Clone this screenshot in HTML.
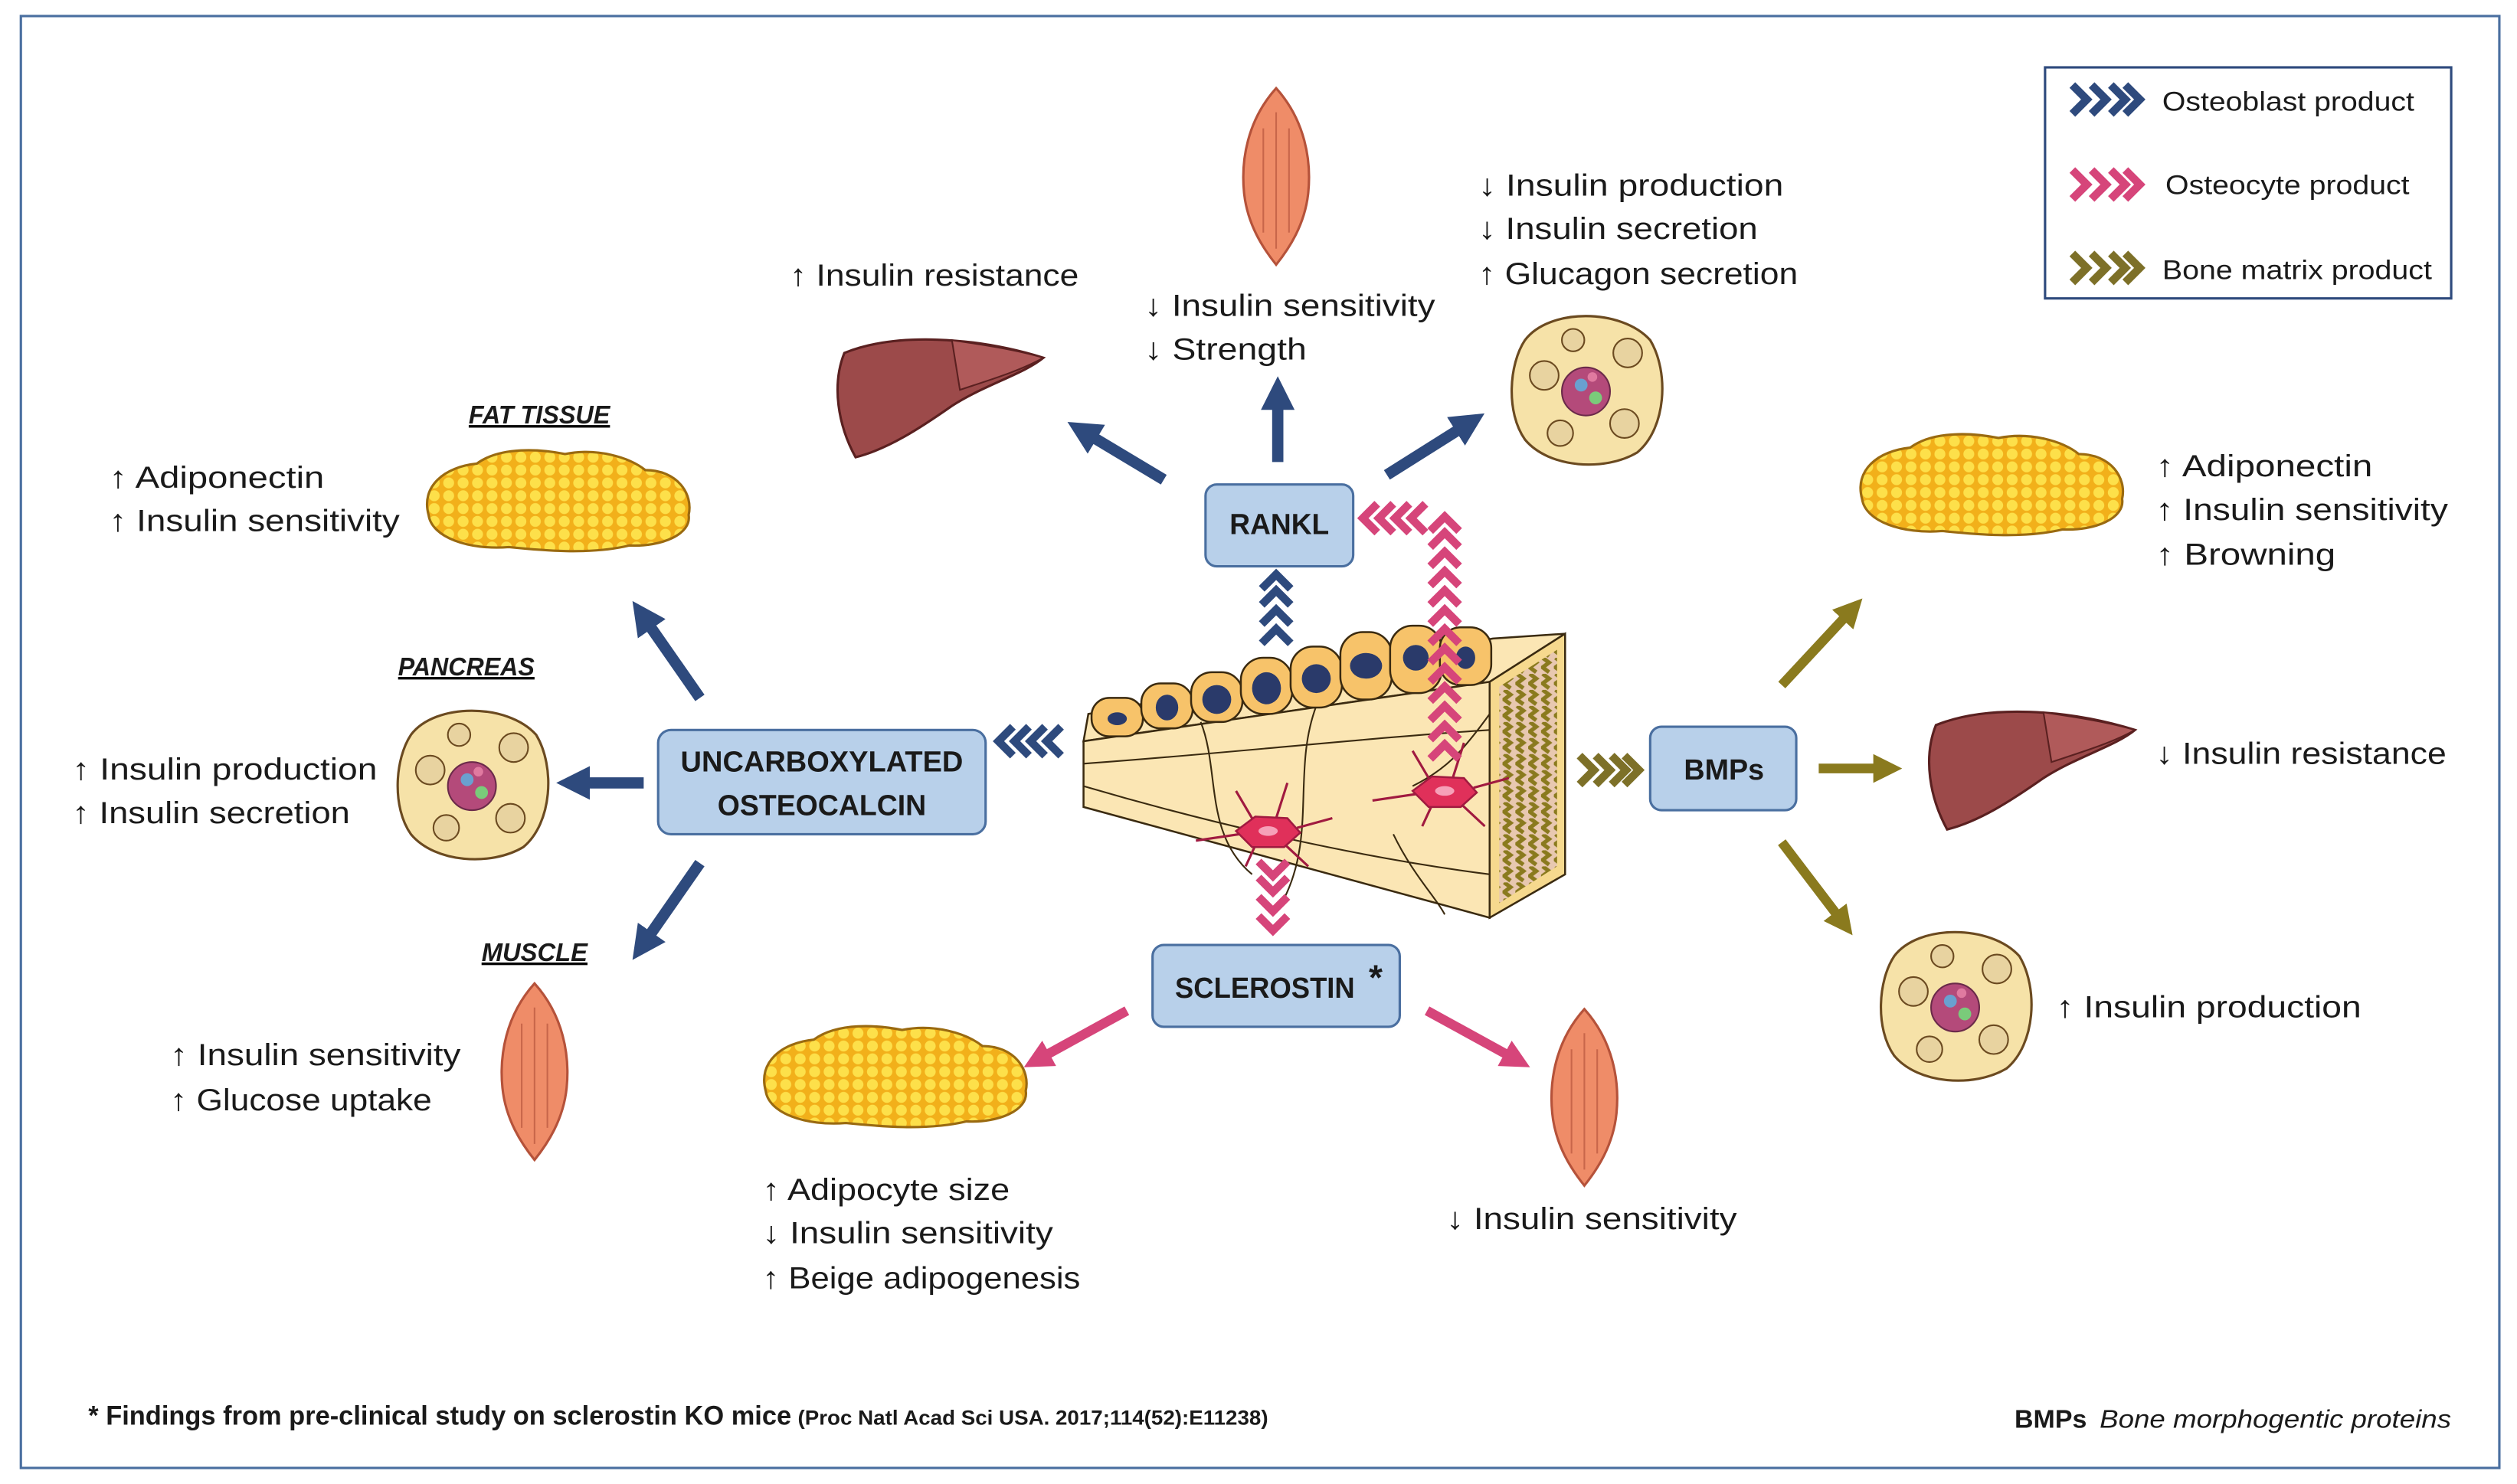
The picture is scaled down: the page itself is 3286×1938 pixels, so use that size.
<!DOCTYPE html>
<html><head><meta charset="utf-8"><style>
html,body{margin:0;padding:0;background:#fff;}
svg{display:block;}
text{font-family:"Liberation Sans",sans-serif;fill:#1a1a1a;}
</style></head><body>
<svg width="3286" height="1938" viewBox="0 0 1568 925" preserveAspectRatio="none" xmlns="http://www.w3.org/2000/svg">
<defs>
 <pattern id="fatp" width="9" height="8" patternUnits="userSpaceOnUse">
  <rect width="9" height="8" fill="#f2b01a"/>
  <circle cx="4.5" cy="4" r="3.4" fill="#fde04a"/>
 </pattern>
 <pattern id="matp" width="8" height="10" patternUnits="userSpaceOnUse">
  <rect width="8" height="10" fill="#e8c8b0"/>
  <path d="M1,0 L5,3 L1,6 L5,9" stroke="#8a7a1e" stroke-width="2.5" fill="none"/>
 </pattern>
 <g id="fat">
  <path d="M-80,8 C-85,-10 -70,-22 -50,-24 C-35,-35 -10,-33 5,-30 C25,-34 45,-28 55,-20 C75,-20 85,-5 82,8 C84,20 65,28 45,27 C20,33 -10,30 -30,28 C-55,30 -78,22 -80,8 Z" fill="url(#fatp)" stroke="#9a6a10" stroke-width="1.5"/>
 </g>
 <g id="liver">
  <path d="M-62,-25 C-30,-38 20,-35 62,-22 C50,-12 25,-5 5,8 C-15,22 -35,35 -55,40 C-66,20 -70,-5 -62,-25 Z" fill="#9c4a4a" stroke="#5a2020" stroke-width="1.5"/>
  <path d="M5,-33 C25,-30 45,-27 62,-22 C48,-14 28,-8 10,-2 Z" fill="#b05a5a" stroke="#5a2020" stroke-width="1"/>
 </g>
 <g id="muscle">
  <path d="M0,-55 C-18,-35 -22,-10 -20,10 C-18,30 -8,45 0,55 C8,45 18,30 20,10 C22,-10 18,-35 0,-55 Z" fill="#ef8c68" stroke="#b5523a" stroke-width="1.5"/>
  <path d="M-8,-30 L-8,35 M0,-40 L0,45 M8,-30 L8,35" stroke="#c8664a" stroke-width="1"/>
 </g>
 <g id="panc">
  <path d="M-40,-30 C-25,-50 20,-50 38,-30 C50,-10 48,25 30,40 C10,52 -25,50 -40,32 C-52,15 -50,-15 -40,-30 Z" fill="#f6e2a8" stroke="#6b4a20" stroke-width="1.5"/>
  <circle cx="-2" cy="2" r="15" fill="#b44a7a" stroke="#6b2a4a"/>
  <circle cx="-5" cy="-2" r="4" fill="#6aa0d0"/><circle cx="4" cy="6" r="4" fill="#7acb7a"/><circle cx="2" cy="-7" r="3" fill="#e07aa0"/>
  <circle cx="-28" cy="-8" r="9" fill="#e8d3a0" stroke="#6b4a20"/><circle cx="24" cy="-22" r="9" fill="#e8d3a0" stroke="#6b4a20"/>
  <circle cx="22" cy="22" r="9" fill="#e8d3a0" stroke="#6b4a20"/><circle cx="-18" cy="28" r="8" fill="#e8d3a0" stroke="#6b4a20"/>
  <circle cx="-10" cy="-30" r="7" fill="#e8d3a0" stroke="#6b4a20"/>
 </g>
 <polyline id="chu" points="-9,5 0,-4 9,5" fill="none" stroke-width="5" stroke-linejoin="miter"/>
 <polyline id="chr" points="-4,-9 5,0 -4,9" fill="none" stroke-width="5" stroke-linejoin="miter"/>
 <g id="ocyte" fill="#e0305a" stroke="#a01a40" stroke-width="1.2">
  <path d="M-45,6 L-18,2 M18,-2 L40,-8 M-10,-8 L-20,-25 M10,8 L25,22 M5,-8 L12,-30 M-8,9 L-14,22" stroke="#a01a40" stroke-width="1.5" fill="none"/>
  <path d="M-20,0 L-8,-9 L12,-8 L20,1 L10,10 L-10,10 Z"/>
  <ellipse cx="0" cy="0" rx="6" ry="3" fill="#f6a0b8" stroke="none"/>
 </g>
</defs>

<rect x="13" y="10" width="1544" height="905" fill="#fff" stroke="#4a6fa0" stroke-width="1.5"/>

<!-- legend -->
<rect x="1274" y="42" width="253" height="144" fill="#fff" stroke="#2e4a7d" stroke-width="1.5"/>
<g stroke="#2e4a7d"><use href="#chr" x="1295" y="62"/><use href="#chr" x="1307" y="62"/><use href="#chr" x="1319" y="62"/><use href="#chr" x="1328" y="62"/></g>
<g stroke="#d6457a"><use href="#chr" x="1295" y="115"/><use href="#chr" x="1307" y="115"/><use href="#chr" x="1319" y="115"/><use href="#chr" x="1328" y="115"/></g>
<g stroke="#7d7028"><use href="#chr" x="1295" y="167"/><use href="#chr" x="1307" y="167"/><use href="#chr" x="1319" y="167"/><use href="#chr" x="1328" y="167"/></g>
<g font-size="17">
<text x="1347" y="69" textLength="157" lengthAdjust="spacingAndGlyphs">Osteoblast product</text>
<text x="1349" y="121" textLength="152" lengthAdjust="spacingAndGlyphs">Osteocyte product</text>
<text x="1347" y="174" textLength="168" lengthAdjust="spacingAndGlyphs">Bone matrix product</text>
</g>

<!-- organs -->
<use href="#muscle" x="795" y="110"/>
<use href="#liver" x="588" y="245"/>
<use href="#panc" x="990" y="242"/>
<use href="#fat" x="347" y="313"/>
<use href="#panc" x="296" y="488"/>
<use href="#muscle" x="333" y="668"/>
<use href="#fat" x="1240" y="303"/>
<use href="#liver" x="1268" y="477"/>
<use href="#panc" x="1220" y="626"/>
<use href="#fat" x="557" y="672"/>
<use href="#muscle" x="987" y="684"/>

<!-- bone block -->
<g stroke="#3a2a10" stroke-width="1.2">
 <polygon points="678,445 930,398 975,395 928,425 675,462" fill="#fbe6b4"/>
 <polygon points="675,462 928,425 928,572 675,503" fill="#fbe6b4"/>
 <polygon points="928,425 975,395 975,545 928,572" fill="#f6d98e"/>
 <polygon points="934,428 970,405 970,540 934,563" fill="url(#matp)" stroke="none"/>
 <path d="M675,476 C760,470 850,460 928,455 M675,490 C760,515 850,535 928,545 M748,450 C760,480 750,520 780,545 M820,440 C805,480 820,520 800,560 M868,520 C880,545 895,560 900,570 M928,445 C910,470 900,480 880,490" fill="none" stroke-width="1"/>
 <g fill="#f7c36a">
  <rect x="680" y="435" width="32" height="24" rx="11"/>
  <rect x="711" y="426" width="32" height="28" rx="12"/>
  <rect x="742" y="419" width="32" height="31" rx="13"/>
  <rect x="773" y="410" width="32" height="35" rx="14"/>
  <rect x="804" y="403" width="32" height="38" rx="14"/>
  <rect x="835" y="394" width="32" height="42" rx="14"/>
  <rect x="866" y="390" width="32" height="42" rx="14"/>
  <rect x="897" y="391" width="32" height="36" rx="13"/>
 </g>
 <g fill="#2a3a6a" stroke="none">
  <ellipse cx="696" cy="448" rx="6" ry="4"/><ellipse cx="727" cy="441" rx="7" ry="8"/><ellipse cx="758" cy="436" rx="9" ry="9"/>
  <ellipse cx="789" cy="429" rx="9" ry="10"/><ellipse cx="820" cy="423" rx="9" ry="9"/><ellipse cx="851" cy="415" rx="10" ry="8"/>
  <ellipse cx="882" cy="410" rx="8" ry="8"/><ellipse cx="913" cy="410" rx="6" ry="7"/>
 </g>
</g>
<use href="#ocyte" x="790" y="518"/>
<use href="#ocyte" x="900" y="493"/>

<!-- chevrons -->
<g stroke="#2e4a7d"><use href="#chu" x="795" y="396"/><use href="#chu" x="795" y="384"/><use href="#chu" x="795" y="372"/><use href="#chu" x="795" y="362"/></g>
<g stroke="#d6457a">
 <use href="#chu" x="900" y="468"/><use href="#chu" x="900" y="456"/><use href="#chu" x="900" y="444"/><use href="#chu" x="900" y="432"/><use href="#chu" x="900" y="420"/><use href="#chu" x="900" y="408"/><use href="#chu" x="900" y="396"/><use href="#chu" x="900" y="384"/><use href="#chu" x="900" y="372"/><use href="#chu" x="900" y="360"/><use href="#chu" x="900" y="348"/><use href="#chu" x="900" y="336"/><use href="#chu" x="900" y="326"/>
 <g transform="translate(870,323) scale(-1,1)"><use href="#chr" x="-14"/><use href="#chr" x="-4"/><use href="#chr" x="6"/><use href="#chr" x="16"/></g>
 <g transform="translate(793,560) scale(1,-1)"><use href="#chu" y="-16"/><use href="#chu" y="-4"/><use href="#chu" y="8"/><use href="#chu" y="18"/></g>
</g>
<g stroke="#2e4a7d" transform="translate(643,462) scale(-1,1)"><use href="#chr" x="-14"/><use href="#chr" x="-4"/><use href="#chr" x="6"/><use href="#chr" x="16"/></g>
<g stroke="#7d7028"><use href="#chr" x="988" y="480"/><use href="#chr" x="998" y="480"/><use href="#chr" x="1008" y="480"/><use href="#chr" x="1016" y="480"/></g>

<!-- arrows -->
<defs>
 <marker id="mb" markerWidth="3" markerHeight="3" refX="0.5" refY="1.5" orient="auto"><path d="M0,0 L3,1.5 L0,3 Z" fill="#2e4a7d"/></marker>
 <marker id="mp" markerWidth="3" markerHeight="3" refX="0.5" refY="1.5" orient="auto"><path d="M0,0 L3,1.5 L0,3 Z" fill="#d6457a"/></marker>
 <marker id="mo" markerWidth="3" markerHeight="3" refX="0.5" refY="1.5" orient="auto"><path d="M0,0 L3,1.5 L0,3 Z" fill="#8a7a1e"/></marker>
</defs>
<g stroke="#2e4a7d" stroke-width="7" marker-end="url(#mb)">
 <line x1="725" y1="299" x2="680" y2="272"/>
 <line x1="796" y1="288" x2="796" y2="252"/>
 <line x1="864" y1="296" x2="910" y2="267"/>
 <line x1="436" y1="435" x2="404" y2="389"/>
 <line x1="401" y1="488" x2="364" y2="488"/>
 <line x1="436" y1="538" x2="404" y2="584"/>
</g>
<g stroke="#8a7a1e" stroke-width="6" marker-end="url(#mo)">
 <line x1="1110" y1="427" x2="1150" y2="384"/>
 <line x1="1133" y1="479" x2="1170" y2="479"/>
 <line x1="1110" y1="525" x2="1145" y2="571"/>
</g>
<g stroke="#d6457a" stroke-width="6" marker-end="url(#mp)">
 <line x1="702" y1="630" x2="651" y2="658"/>
 <line x1="889" y1="630" x2="940" y2="658"/>
</g>

<!-- boxes -->
<g fill="#b8d0ea" stroke="#4a6fa0" stroke-width="1.5">
 <rect x="751" y="302" width="92" height="51" rx="7"/>
 <rect x="410" y="455" width="204" height="65" rx="8"/>
 <rect x="1028" y="453" width="91" height="52" rx="7"/>
 <rect x="718" y="589" width="154" height="51" rx="7"/>
</g>
<g font-weight="bold" font-size="18" text-anchor="middle">
 <text x="797" y="333" textLength="62" lengthAdjust="spacingAndGlyphs">RANKL</text>
 <text x="512" y="481" textLength="176" lengthAdjust="spacingAndGlyphs">UNCARBOXYLATED</text>
 <text x="512" y="508" textLength="130" lengthAdjust="spacingAndGlyphs">OSTEOCALCIN</text>
 <text x="1074" y="486" textLength="50" lengthAdjust="spacingAndGlyphs">BMPs</text>
 <text x="788" y="622" textLength="112" lengthAdjust="spacingAndGlyphs">SCLEROSTIN</text>
 <text x="857" y="617" font-size="22">*</text>
</g>

<!-- labels -->
<g font-size="19">
 <text x="492" y="178" textLength="180" lengthAdjust="spacingAndGlyphs">↑ Insulin resistance</text>
 <text x="713" y="197" textLength="181" lengthAdjust="spacingAndGlyphs">↓ Insulin sensitivity</text>
 <text x="713" y="224" textLength="101" lengthAdjust="spacingAndGlyphs">↓ Strength</text>
 <text x="921" y="122" textLength="190" lengthAdjust="spacingAndGlyphs">↓ Insulin production</text>
 <text x="921" y="149" textLength="174" lengthAdjust="spacingAndGlyphs">↓ Insulin secretion</text>
 <text x="921" y="177" textLength="199" lengthAdjust="spacingAndGlyphs">↑ Glucagon secretion</text>
 <text x="68" y="304" textLength="134" lengthAdjust="spacingAndGlyphs">↑ Adiponectin</text>
 <text x="68" y="331" textLength="181" lengthAdjust="spacingAndGlyphs">↑ Insulin sensitivity</text>
 <text x="45" y="486" textLength="190" lengthAdjust="spacingAndGlyphs">↑ Insulin production</text>
 <text x="45" y="513" textLength="173" lengthAdjust="spacingAndGlyphs">↑ Insulin secretion</text>
 <text x="106" y="664" textLength="181" lengthAdjust="spacingAndGlyphs">↑ Insulin sensitivity</text>
 <text x="106" y="692" textLength="163" lengthAdjust="spacingAndGlyphs">↑ Glucose uptake</text>
 <text x="1343" y="297" textLength="135" lengthAdjust="spacingAndGlyphs">↑ Adiponectin</text>
 <text x="1343" y="324" textLength="182" lengthAdjust="spacingAndGlyphs">↑ Insulin sensitivity</text>
 <text x="1343" y="352" textLength="112" lengthAdjust="spacingAndGlyphs">↑ Browning</text>
 <text x="1343" y="476" textLength="181" lengthAdjust="spacingAndGlyphs">↓ Insulin resistance</text>
 <text x="1281" y="634" textLength="190" lengthAdjust="spacingAndGlyphs">↑ Insulin production</text>
 <text x="475" y="748" textLength="154" lengthAdjust="spacingAndGlyphs">↑ Adipocyte size</text>
 <text x="475" y="775" textLength="181" lengthAdjust="spacingAndGlyphs">↓ Insulin sensitivity</text>
 <text x="475" y="803" textLength="198" lengthAdjust="spacingAndGlyphs">↑ Beige adipogenesis</text>
 <text x="901" y="766" textLength="181" lengthAdjust="spacingAndGlyphs">↓ Insulin sensitivity</text>
</g>
<g font-size="16" font-weight="bold" font-style="italic" text-decoration="underline">
 <text x="292" y="264" textLength="88" lengthAdjust="spacingAndGlyphs">FAT TISSUE</text>
 <text x="248" y="421" textLength="85" lengthAdjust="spacingAndGlyphs">PANCREAS</text>
 <text x="300" y="599" textLength="66" lengthAdjust="spacingAndGlyphs">MUSCLE</text>
</g>

<!-- footer -->
<text x="55" y="888" font-size="17" font-weight="bold" textLength="438" lengthAdjust="spacingAndGlyphs">* Findings from pre-clinical study on sclerostin KO mice</text>
<text x="497" y="888" font-size="13" font-weight="bold" textLength="293" lengthAdjust="spacingAndGlyphs">(Proc Natl Acad Sci USA. 2017;114(52):E11238)</text>
<text x="1255" y="890" font-size="16" font-weight="bold" textLength="45" lengthAdjust="spacingAndGlyphs">BMPs</text>
<text x="1308" y="890" font-size="16" font-style="italic" textLength="219" lengthAdjust="spacingAndGlyphs">Bone morphogentic proteins</text>
</svg>
</body></html>
